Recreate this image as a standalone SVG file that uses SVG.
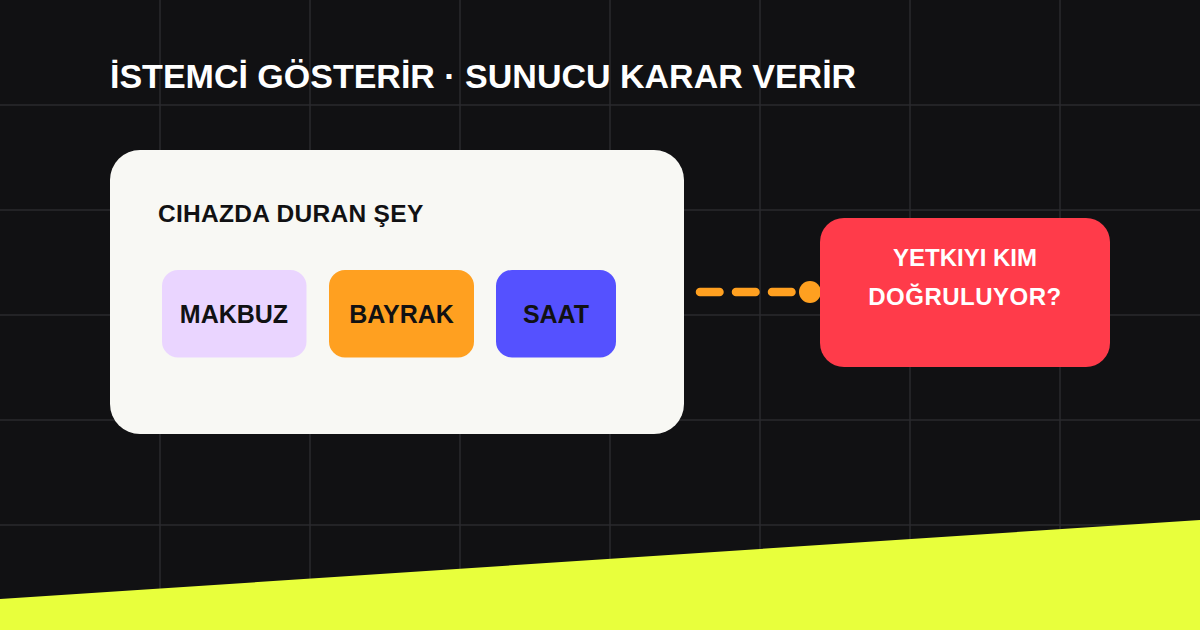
<svg xmlns="http://www.w3.org/2000/svg" width="1200" height="630" viewBox="0 0 1200 630">
<defs>
<style>
.grid{stroke:#2a2a2e;stroke-width:1.5}
.t{font-family:"Liberation Sans",Arial,sans-serif;font-weight:bold}
.chip{font-size:25px;fill:#111113;text-anchor:middle}
</style>
</defs>
<rect width="1200" height="630" fill="#111113"/>
<g id="grid">
<path class="grid" d="M160 0V630M310 0V630M460 0V630M610 0V630M760 0V630M910 0V630M1060 0V630M0 105H1200M0 210H1200M0 315H1200M0 420H1200M0 525H1200"/>
</g>
<polygon points="0,599 1200,520 1200,630 0,630" fill="#e8ff3c"/>
<text class="t" x="110" y="88" font-size="34" fill="#ffffff">İSTEMCİ GÖSTERİR · SUNUCU KARAR VERİR</text>
<g id="card">
<rect x="110" y="150" width="574" height="284" rx="30" fill="#f8f8f4"/>
<text class="t" x="158" y="222" font-size="24.5" letter-spacing="0.3" fill="#111113">CIHAZDA DURAN ŞEY</text>
</g>
<g id="makbuz">
<rect x="162" y="270" width="144.5" height="87.5" rx="16" fill="#ead5ff"/>
<text class="t chip" x="234" y="323">MAKBUZ</text>
</g>
<g id="bayrak">
<rect x="329" y="270" width="145" height="87.5" rx="16" fill="#ffa020"/>
<text class="t chip" x="401.5" y="323">BAYRAK</text>
</g>
<g id="saat">
<rect x="496" y="270" width="120" height="87.5" rx="16" fill="#5551ff"/>
<text class="t chip" x="556" y="323">SAAT</text>
</g>
<g id="connectors">
<line x1="700" y1="292" x2="795" y2="292" stroke="#ffa020" stroke-width="8.5" stroke-linecap="round" stroke-dasharray="19.5 16.5"/>
<circle cx="810" cy="292" r="11" fill="#ffa020"/>
</g>
<g id="yetki">
<rect x="820" y="218" width="290" height="149" rx="24" fill="#ff3b4a"/>
<text class="t" x="965" y="265.5" font-size="24" fill="#ffffff" text-anchor="middle">YETKIYI KIM</text>
<text class="t" x="965" y="304.5" font-size="24" letter-spacing="0.5" fill="#ffffff" text-anchor="middle">DOĞRULUYOR?</text>
</g>
</svg>
